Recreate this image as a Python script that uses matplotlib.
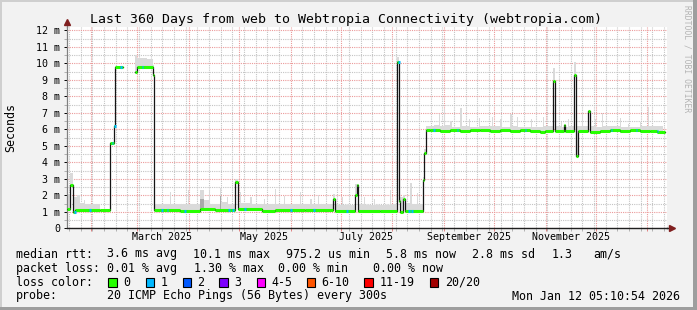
import datetime as dt
import numpy as np
import matplotlib
matplotlib.use("Agg")
import matplotlib.pyplot as plt
import matplotlib.dates as mdates
from matplotlib.ticker import MultipleLocator, FuncFormatter, NullFormatter
from matplotlib.patches import Rectangle

# median rtt in ms, as steps: value holds from med_day[i] to med_day[i+1] (days since graph start)
med_day = [0.0, 1.7, 3.3, 4.8, 13.8, 19.8, 25.8, 27.9, 28.8, 33.4, 40.8, 41.8, 51.4, 52.4,
           67.8, 79.8, 88.8, 100.7, 102.3, 117.0, 124.8, 133.8, 142.8, 159.6, 160.8, 172.8,
           173.7, 174.6, 187.8, 198.1, 199.4, 200.0, 201.6, 202.8, 213.3, 214.3, 215.4,
           217.8, 223.8, 229.8, 235.8, 241.8, 247.8, 253.8, 259.8, 265.8, 271.8, 277.8,
           283.8, 286.8, 291.3, 292.7, 297.9, 298.8, 304.4, 305.4, 306.4, 312.4, 313.6,
           319.8, 325.8, 331.8, 337.8, 343.8, 349.8, 354.0, 358.6]
med_ms = [1.15, 2.65, 0.98, 1.12, 1.10, 1.12, 5.2, 6.2, 9.8, np.nan, 9.5, 9.8, 9.3, 1.10,
          1.07, 1.14, 1.10, 2.8, 1.17, 1.06, 1.12, 1.10, 1.08, 1.8, 1.05, 2.0,
          2.6, 1.07, 1.05, 10.1, 1.65, 1.0, 1.8, 1.05, 2.9, 4.55, 5.97,
          5.93, 5.90, 5.96, 5.92, 5.97, 5.95, 5.90, 5.95, 5.92, 5.95, 5.90,
          5.83, 5.92, 8.9, 5.9, 6.25, 5.92, 9.3, 4.4, 5.9, 7.1, 5.85,
          5.9, 5.95, 5.88, 5.93, 5.9, 5.92, 5.85, np.nan]

# upper edge of the light ping "smoke" (ms), same step layout
smoke_day = [0.0, 1.7, 3.3, 6.0, 8.0, 10.0, 11.0, 25.8, 28.8, 33.4, 40.8, 42.0, 45.0, 48.0,
             51.4, 52.4, 61.5, 62.3, 72.3, 73.1, 79.5, 82.0, 85.0, 86.0, 91.5, 92.5, 96.0,
             96.8, 100.7, 102.3, 103.5, 104.3, 110.0, 110.8, 118.0, 118.8, 124.8, 125.6,
             130.0, 130.8, 139.8, 140.6, 146.0, 146.8, 150.6, 151.4, 159.6, 160.8, 165.0,
             165.8, 172.8, 174.6, 178.0, 178.8, 184.0, 184.8, 193.5, 194.3, 198.1, 199.4,
             201.6, 202.8, 206.0, 206.8, 210.0, 210.8, 213.3, 214.3, 215.4, 220.0, 223.0,
             223.8, 226.0, 226.8, 230.0, 230.8, 236.0, 236.8, 241.0, 241.8, 247.0, 247.8,
             255.0, 255.8, 260.0, 260.8, 266.0, 266.8, 269.8, 270.6, 278.3, 279.1, 285.5,
             286.3, 291.3, 292.7, 296.3, 297.1, 300.5, 301.3, 304.4, 305.4, 308.8, 309.6,
             316.7, 317.5, 320.8, 321.6, 331.8, 332.6, 336.5, 337.3, 343.7, 344.5, 348.5,
             349.3, 357.4, 358.6]
smoke_top = [2.1, 3.35, 1.9, 2.0, 1.55, 1.7, 1.5, np.nan, 10.25, np.nan, 10.5, 10.3, 10.35, 10.25,
             9.9, 1.45, 2.2, 1.5, 2.3, 1.5, 2.3, 1.7, 2.3, 1.5, 2.45, 1.6, 1.9,
             1.5, 3.0, 1.55, 2.2, 1.55, 1.9, 1.5, 1.8, 1.45, 2.4, 1.5,
             1.95, 1.45, 2.2, 1.45, 1.8, 1.45, 2.0, 1.45, 2.1, 1.4, 1.9,
             1.4, 2.7, 1.45, 1.9, 1.4, 1.75, 1.4, 2.3, 1.45, 10.4, 1.9,
             2.0, 1.55, 2.75, 1.5, 2.15, 1.5, 3.1, 4.8, 6.2, 6.25, 6.9,
             6.2, 7.2, 6.25, 6.5, 6.15, 7.3, 6.2, 6.6, 6.15, 6.7, 6.2,
             6.75, 6.2, 6.6, 6.15, 6.9, 6.2, 6.75, 6.15, 6.6, 6.15, 6.75,
             6.2, 9.7, 6.2, 6.45, 6.15, 6.6, 6.2, 10.1, 6.2, 7.07, 6.2,
             6.6, 6.15, 7.0, 6.2, 6.7, 6.15, 6.3, 6.15, 6.45, 6.2, 7.37,
             6.2, 6.45, np.nan]

# a few darker smoke patches (ms)
dark_day = [0.0, 80.0, 83.5, 92.0, 95.0, 159.3, 160.4, 358.6]
dark_top = [np.nan, 1.75, np.nan, 1.95, np.nan, 1.9, np.nan, np.nan]

# days where 1 of 20 pings was lost
loss1_day = [4.2, 13.2, 26.8, 28.2, 31.8, 44.8, 56.4, 59.8, 70.2, 96.6, 99.0, 106.2, 133.8,
             147.6, 167.4, 198.6, 204.6, 206.4, 219.6, 233.8, 274.7, 326.3, 341.3, 353.9]

label_months = [dt.datetime(2025, m, 16) for m in (3, 5, 7, 9, 11)]

rtt_stats = ["3.6 ms avg", "10.1 ms max", "975.2 us min", "5.8 ms now", "2.8 ms sd", "1.3", "am/s"]
loss_stats = ["0.01 % avg", "1.30 % max", "0.00 % min", "0.00 % now"]
loss_labels = ["0", "1", "2", "3", "4-5", "6-10", "11-19", "20/20"]
loss_colors = ["#26ff00", "#00b8ff", "#0059ff", "#7e00ff", "#ff00ff", "#ff5500", "#ff0000", "#a10000"]

W, H = 697, 310
MONO = "DejaVu Sans Mono"


def fx(x):
    return x / W


def fy(y):
    return 1 - y / H


def step_at(bd, bv, d):
    idx = np.searchsorted(bd, d, side="right") - 1
    return np.asarray(bv)[np.clip(idx, 0, len(bv) - 1)]


fig = plt.figure(figsize=(W / 100, H / 100), dpi=100, facecolor="#f2f2f2")
ax = fig.add_axes([fx(67), fy(228.3), fx(600), (228.3 - 27) / H])
ax.set_facecolor("white")

t0 = mdates.date2num(dt.datetime(2025, 1, 17, 18, 0))
md = np.array(med_day)
mv = np.array(med_ms)

# smoke
alld = np.union1d(np.union1d(md, np.array(smoke_day)), np.array(dark_day))
m_all = step_at(md, mv, alld)
s_all = step_at(np.array(smoke_day), smoke_top, alld)
k_all = step_at(np.array(dark_day), dark_top, alld)
upper = np.fmax(s_all, m_all)
lower = m_all - 0.08
ok = ~np.isnan(m_all) & ~np.isnan(s_all)
ax.fill_between(t0 + alld, lower, upper, where=ok, step="post", color="#dadada",
                lw=0, zorder=2)
okd = ~np.isnan(m_all) & ~np.isnan(k_all)
ax.fill_between(t0 + alld, m_all, np.fmax(k_all, m_all), where=okd, step="post", color="#a9a9a9",
                lw=0, zorder=2.5)

# median line: black steps with loss-coloured segments
ax.step(t0 + md, mv, where="post", color="#141414", lw=0.9, zorder=3)
good = ~np.isnan(mv[:-1])
ax.hlines(mv[:-1][good], (t0 + md[:-1])[good], (t0 + md[1:])[good],
          color=loss_colors[0], lw=2.2, zorder=4)
ld = np.array(loss1_day)
ax.hlines(step_at(md, mv, ld), t0 + ld, t0 + ld + 0.9, color=loss_colors[1], lw=2.2, zorder=5)

ax.set_xlim(t0, t0 + 360)
ax.set_ylim(0, 12.2)

ax.xaxis.set_major_locator(mdates.MonthLocator())
ax.xaxis.set_minor_locator(mdates.WeekdayLocator(byweekday=mdates.SU))
ax.xaxis.set_major_formatter(NullFormatter())
ax.yaxis.set_major_locator(MultipleLocator(1))
ax.yaxis.set_minor_locator(MultipleLocator(0.5))
ax.yaxis.set_major_formatter(FuncFormatter(lambda v, p: "0" if v == 0 else f"{v:.0f} m"))

ax.grid(which="minor", color="#c4c4c4", lw=0.8, ls=(0, (1, 1)), zorder=1)
ax.grid(which="major", color="#eb9a9a", lw=0.8, ls=(0, (1, 1)), zorder=1)
ax.set_axisbelow(True)

ax.tick_params(which="both", direction="out", length=2, width=0.7)
ax.tick_params(axis="x", which="major", colors="#e08080")
ax.tick_params(axis="x", which="minor", colors="#b0b0b0")
ax.tick_params(axis="y", which="major", labelsize=7.2, pad=3, colors="black")
ax.tick_params(axis="y", which="minor", colors="#b0b0b0")
for lab in ax.get_yticklabels():
    lab.set_fontfamily(MONO)

for s in ("top", "right"):
    ax.spines[s].set_visible(False)
ax.spines["left"].set_color("#808080")
ax.spines["bottom"].set_color("#1f1f1f")
ax.spines["left"].set_linewidth(0.9)
ax.spines["bottom"].set_linewidth(1.0)

# axis arrows
ax.plot([0, 0], [1, 1.02], transform=ax.transAxes, color="#808080", lw=0.9, clip_on=False)
ax.plot([1, 1.005], [0, 0], transform=ax.transAxes, color="#1f1f1f", lw=1.0, clip_on=False)
ax.plot([0], [1.025], marker="^", ms=4.5, color="#801f1f", transform=ax.transAxes, clip_on=False)
ax.plot([1.008], [0], marker=">", ms=4.5, color="#801f1f", transform=ax.transAxes, clip_on=False)

for d in label_months:
    ax.text(mdates.date2num(d), -0.045, d.strftime("%B %Y"), transform=ax.get_xaxis_transform(),
            ha="center", va="center", fontsize=7.2, family=MONO)

fig.text(fx(346), fy(19), "Last 360 Days from web to Webtropia Connectivity (webtropia.com)",
         ha="center", va="center", fontsize=9.5, family=MONO)
fig.text(fx(11), fy(127), "Seconds", rotation=90, ha="center", va="center", fontsize=8.4, family=MONO)
fig.text(fx(687.5), fy(59), "RRDTOOL / TOBI OETIKER", rotation=270, ha="center", va="center",
         fontsize=5.8, family=MONO, color="#b4b4b4")

# legend rows
LS = 8.4
fig.text(fx(16), fy(254), "median rtt:", fontsize=LS, family=MONO, va="center")
for s, x in zip(rtt_stats, [107.3, 193.3, 286, 386, 471.7, 551.7, 593.3]):
    fig.text(fx(x), fy(254), s, fontsize=LS, family=MONO, va="center")
fig.text(fx(16), fy(268.3), "packet loss:", fontsize=LS, family=MONO, va="center")
for s, x in zip(loss_stats, [107.3, 194, 278.3, 373.3]):
    fig.text(fx(x), fy(268.3), s, fontsize=LS, family=MONO, va="center")
fig.text(fx(16), fy(282.3), "loss color:", fontsize=LS, family=MONO, va="center")
for lab, col, bx, tx in zip(loss_labels, loss_colors,
                            [108.3, 145.7, 182.7, 219.3, 256.7, 306.7, 364.4, 429.5],
                            [123.3, 160.7, 197.3, 234.3, 271, 321.7, 379.4, 445]):
    fig.add_artist(Rectangle((fx(bx), fy(286.5)), 8.5 / W, 9 / H, transform=fig.transFigure,
                             facecolor=col, edgecolor="black", lw=0.8))
    fig.text(fx(tx), fy(282.3), lab, fontsize=LS, family=MONO, va="center")
fig.text(fx(16), fy(296), "probe:", fontsize=LS, family=MONO, va="center")
fig.text(fx(107.3), fy(296), "20 ICMP Echo Pings (56 Bytes) every 300s", fontsize=LS, family=MONO,
         va="center")
fig.text(fx(680), fy(296), "Mon Jan 12 05:10:54 2026", fontsize=LS, family=MONO, va="center",
         ha="right")

# image border shading
fig.add_artist(Rectangle((0, 1 - 2 / H), 1, 2 / H, transform=fig.transFigure, color="#cfcfcf", lw=0))
fig.add_artist(Rectangle((0, 0), 2 / W, 1, transform=fig.transFigure, color="#cfcfcf", lw=0))
fig.add_artist(Rectangle((1 - 4 / W, 0), 4 / W, 1, transform=fig.transFigure, color="#9e9e9e", lw=0))
fig.add_artist(Rectangle((0, 0), 1, 3 / H, transform=fig.transFigure, color="#9e9e9e", lw=0))

fig.savefig("out.png", dpi=100, facecolor=fig.get_facecolor())
